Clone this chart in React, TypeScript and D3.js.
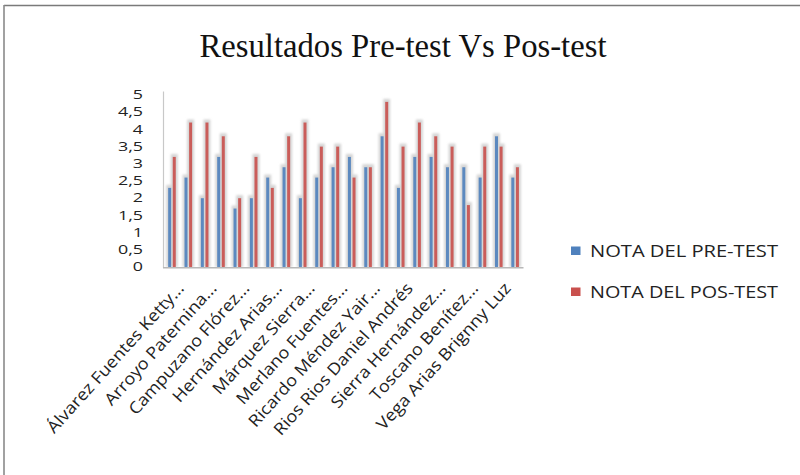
import React from "react";
import * as d3 from "d3";

const title = "Resultados Pre-test Vs Pos-test";
const seriesNames = ["NOTA DEL PRE-TEST", "NOTA DEL POS-TEST"];
const categoryLabels = [
  "Álvarez Fuentes Ketty...", "",
  "Arroyo Paternina...", "",
  "Campuzano Flórez...", "",
  "Hernández Arias...", "",
  "Márquez Sierra...", "",
  "Merlano Fuentes...", "",
  "Ricardo Méndez Yair...", "",
  "Rios Rios Daniel Andrés", "",
  "Sierra Hernández...", "",
  "Toscano Benítez...", "",
  "Vega Arias Brignny Luz", "",
];
const preTest = [2.3, 2.6, 2.0, 3.2, 1.7, 2.0, 2.6, 2.9, 2.0, 2.6, 2.9, 3.2, 2.9, 3.8, 2.3, 3.2, 3.2, 2.9, 2.9, 2.6, 3.8, 2.6];
const posTest = [3.2, 4.2, 4.2, 3.8, 2.0, 3.2, 2.3, 3.8, 4.2, 3.5, 3.5, 2.6, 2.9, 4.8, 3.5, 4.2, 3.8, 3.5, 1.8, 3.5, 3.5, 2.9];
const yTicks = [0, 0.5, 1, 1.5, 2, 2.5, 3, 3.5, 4, 4.5, 5];

const colors = ["#4f81bd", "#c9504d"];

export default function App() {
  const W = 800, H = 475;
  const idx = d3.range(preTest.length);
  const x = d3.scaleBand<number>().domain(idx).range([163.8, 523.3]).padding(0);
  const y = d3.scaleLinear().domain([0, 5]).range([267, 95]);
  const fmt = (v: number) => String(v).replace(".", ",");
  const series = [preTest, posTest];
  const offsets = [-2.3, 2.3];
  const bw = 3;
  const sans = "'Open Sans', 'Noto Sans', sans-serif";

  return (
    <svg width={W} height={H} style={{ position: "absolute", left: 0, top: 0, background: "#fff" }}>
      <defs>
        <filter id="blur" x="-1" y="-0.2" width="3" height="1.4">
          <feGaussianBlur stdDeviation="1.3" />
        </filter>
        <filter id="fshadow" x="-0.1" y="-0.1" width="1.2" height="1.2">
          <feGaussianBlur stdDeviation="0.8" />
        </filter>
      </defs>
      <rect x={0} y={0} width={W} height={H} fill="#fff" />
      {/* outer frame */}
      <line x1={4} y1={6.5} x2={W} y2={6.5} stroke="#cfcfcf" strokeWidth={2} filter="url(#fshadow)" />
      <line x1={4} y1={5.5} x2={W} y2={5.5} stroke="#7a7a7a" strokeWidth={1.6} />
      <line x1={4} y1={5} x2={4} y2={H} stroke="#8a8a8a" strokeWidth={1.6} />

      <text x={403} y={57} fontFamily="'Liberation Serif', 'DejaVu Serif', serif" fontSize={34}
        textAnchor="middle" textLength={407} lengthAdjust="spacingAndGlyphs" fill="#111">{title}</text>

      {/* shadows */}
      <g filter="url(#blur)">
        {series.map((s, si) =>
          s.map((v, i) => {
            const cx = (x(i) as number) + x.bandwidth() / 2 + offsets[si];
            return (
              <rect key={`s${si}-${i}`} x={cx - bw / 2 - 2} y={y(v) - 3} width={bw + 4}
                height={y(0) - y(v) + 3} fill="#d6d6d6" />
            );
          })
        )}
      </g>

      {/* axes */}
      <line x1={163.5} y1={91.5} x2={163.5} y2={268} stroke="#c8c8c8" strokeWidth={1.2} />
      <line x1={163} y1={267.8} x2={523.5} y2={267.8} stroke="#b8b8b8" strokeWidth={1.6} />

      {/* bars */}
      {series.map((s, si) =>
        s.map((v, i) => {
          const cx = (x(i) as number) + x.bandwidth() / 2 + offsets[si];
          return (
            <rect key={`b${si}-${i}`} x={cx - bw / 2} y={y(v)} width={bw}
              height={y(0) - y(v)} fill={colors[si]} opacity={0.9} />
          );
        })
      )}

      {/* y tick labels */}
      {yTicks.map((t) => (
        <text key={t} transform={`translate(143,${y(t) + 4.2}) scale(1.05,0.7)`} textAnchor="end"
          fontFamily={sans} fontSize={17} fill="#222">{fmt(t)}</text>
      ))}

      {/* x tick labels */}
      {categoryLabels.map((lab, i) =>
        lab ? (
          <text key={i} transform={`translate(${(x(i) as number) + x.bandwidth() / 2 + 13},289) rotate(-48) scale(1.1,1)`}
            textAnchor="end" fontFamily={sans} fontSize={16.5} fill="#222">{lab}</text>
        ) : null
      )}

      {/* legend */}
      {seriesNames.map((n, i) => (
        <g key={n}>
          <rect x={571} y={i === 0 ? 246.5 : 287.5} width={9.5} height={8.5} fill={colors[i]} />
          <text x={590} y={i === 0 ? 256.5 : 297.5} fontFamily={sans}
            fontSize={16} textLength={188} lengthAdjust="spacingAndGlyphs" fill="#222">{n}</text>
        </g>
      ))}
    </svg>
  );
}
